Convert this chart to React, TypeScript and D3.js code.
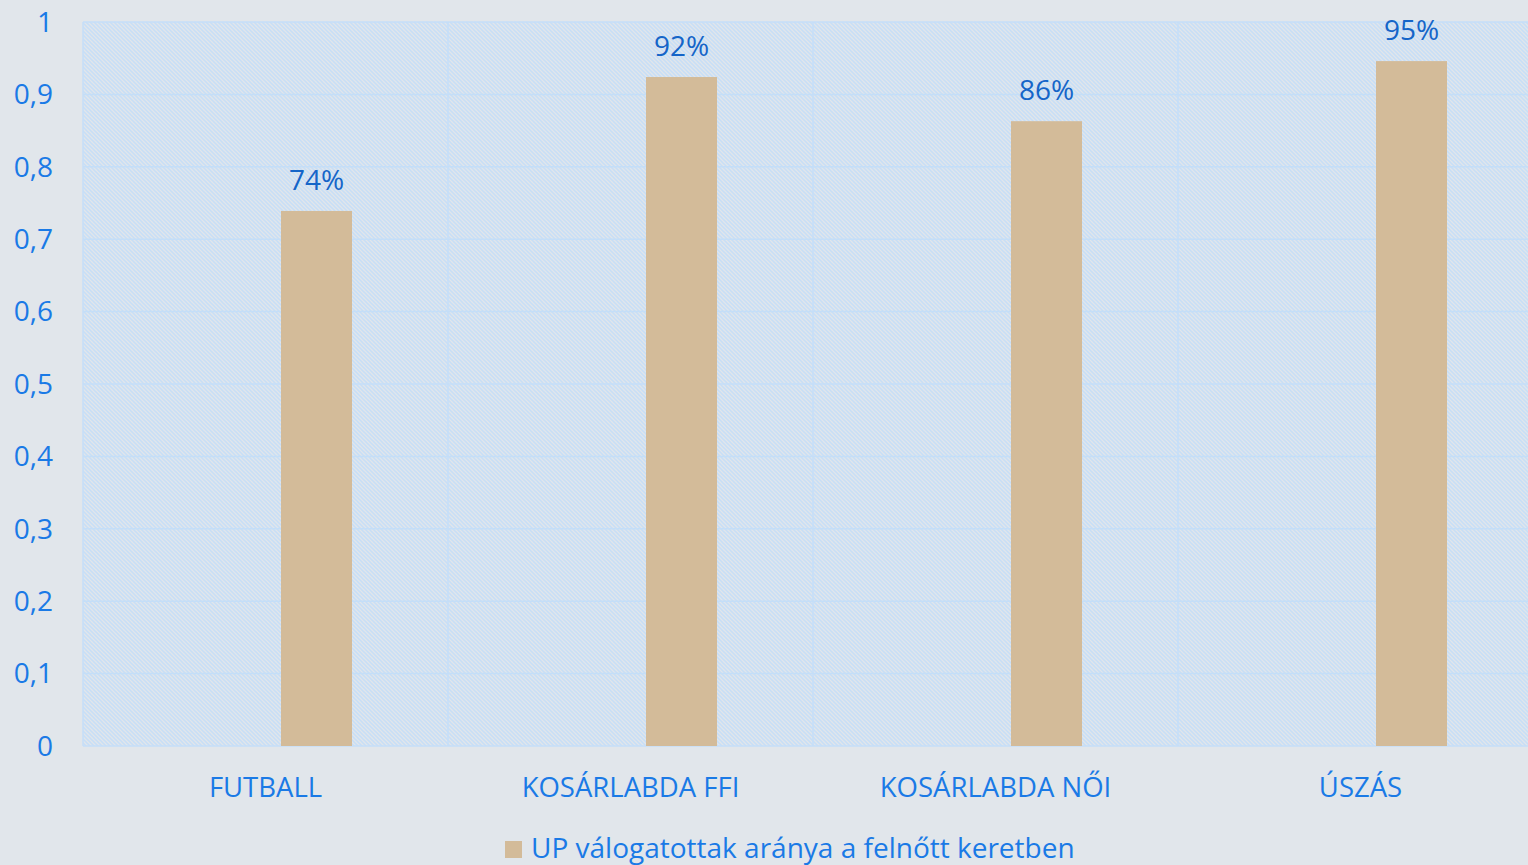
import React from "react";
import * as d3 from "d3";

const categories = ["FUTBALL", "KOSÁRLABDA FFI", "KOSÁRLABDA NŐI", "ÚSZÁS"];
const values = [0.739, 0.924, 0.863, 0.946];
const yTicks = [0, 0.1, 0.2, 0.3, 0.4, 0.5, 0.6, 0.7, 0.8, 0.9, 1];
const seriesName = "UP válogatottak aránya a felnőtt keretben";

const W = 1528;
const H = 865;
const left = 83;
const top = 22;
const bottom = 746;
const catW = 365;

export default function App() {
  const x = d3.scaleBand<string>().domain(categories).range([left, left + catW * categories.length]).padding(0);
  const y = d3.scaleLinear().domain([0, 1]).range([bottom, top]);
  const fmtTick = (v: number) => d3.format(".1f")(v).replace(".", ",").replace(/,0$/, "");
  const fmtPct = d3.format(".0%");
  const barW = 71;
  const barOff = 15.5;
  const font = "'Open Sans', 'Noto Sans', sans-serif";
  const blue = "#1a7ae6";
  const dark = "#1565c8";
  const grid = "#c4def8";
  return (
    <svg width={W} height={H} style={{ position: "absolute", left: 0, top: 0, background: "#e1e6eb" }}>
      <defs>
        <pattern id="hatch" width="4" height="4" patternUnits="userSpaceOnUse">
          <rect width="4" height="4" fill="#e1e6eb" />
          <path d="M-1,-1 L5,5 M-1,3 L1,5 M3,-1 L5,1" stroke="#c6def7" strokeWidth="1.5" />
        </pattern>
      </defs>
      <rect x={0} y={0} width={W} height={H} fill="#e1e6eb" />
      <rect x={left} y={top} width={catW * 4} height={bottom - top} fill="url(#hatch)" />
      {yTicks.map((t) => (
        <g key={t}>
          <line x1={left} x2={left + catW * 4} y1={y(t)} y2={y(t)} stroke={grid} strokeWidth={1.5} />
          <text x={53} y={y(t)} dy="0.35em" textAnchor="end" fontFamily={font} fontSize={28} fill={blue}>
            {fmtTick(t)}
          </text>
        </g>
      ))}
      {categories.map((c) => (
        <line key={"v" + c} x1={x(c) as number} x2={x(c) as number} y1={top} y2={bottom} stroke={grid} strokeWidth={1.5} />
      ))}
      {categories.map((c, i) => {
        const cx = (x(c) as number) + x.bandwidth() / 2;
        const bx = cx + barOff;
        return (
          <g key={c}>
            <rect x={bx} y={y(values[i])} width={barW} height={bottom - y(values[i])} fill="#d3bb99" />
            <text x={bx + barW / 2} y={y(values[i]) - 21} textAnchor="middle" fontFamily={font} fontSize={28} fill={dark}>
              {fmtPct(values[i])}
            </text>
            <text x={cx} y={787} dy="0.35em" textAnchor="middle" fontFamily={font} fontSize={27.5} fill={blue}>
              {c}
            </text>
          </g>
        );
      })}
      <rect x={505} y={841} width={17} height={17} fill="#d3bb99" />
      <text x={531} y={858} fontFamily={font} fontSize={28} fill={blue}>
        {seriesName}
      </text>
    </svg>
  );
}
